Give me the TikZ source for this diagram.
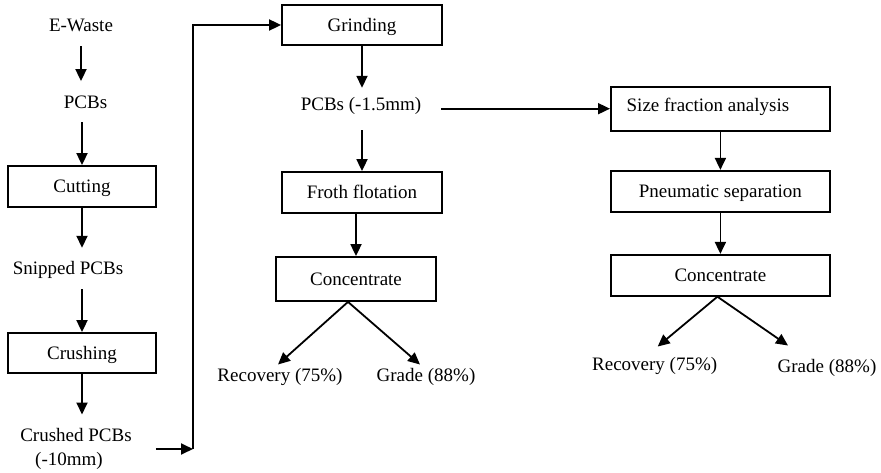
\documentclass[tikz,border=0pt]{standalone}
\usepackage{fontspec}
\setmainfont{Liberation Serif}
\usetikzlibrary{arrows.meta,calc}
\begin{document}
\begin{tikzpicture}[x=1pt,y=-1pt,
 every node/.style={font=\fontsize{19}{23}\selectfont},
 procbox/.style={draw,line width=1.8pt,inner sep=0pt,text height=13pt,text depth=0pt,minimum height=41pt},
 txt/.style={inner sep=0pt,text height=27pt,text depth=14pt,anchor=base},
 outcome/.style={inner sep=0pt,text height=18pt,text depth=4pt,anchor=base},
 arr/.style={-{Triangle[length=12pt,width=11pt]},line width=1.8pt}]
\useasboundingbox (0,0) rectangle (881,473);
% left column
\node[txt] (ewaste) at (81,32) {E-Waste};
\node[txt] (pcbs) at (85.5,108.3) {PCBs};
\node[procbox,minimum width=148pt] (cutting) at (82,186.5) {Cutting};
\node[txt] (snipped) at (68,275) {Snipped PCBs};
\node[procbox,minimum width=148pt,minimum height=40pt] (crushing) at (82,353) {Crushing};
\node[txt] (crushed) at (76,441.7) {Crushed PCBs};
\node[txt,text height=13pt,text depth=4pt] (crushedb) at (69,465) {(-10mm)};
\coordinate (turn) at (193,449);
% middle column
\node[procbox,minimum width=160pt,minimum height=40pt] (grinding) at (362,25) {Grinding};
\node[txt,text height=23pt,text depth=19pt,inner xsep=20pt] (fine) at (361,111) {PCBs (-1.5mm)};
\node[procbox,minimum width=160pt] (froth) at (362,192.5) {Froth flotation};
\node[procbox,minimum width=160pt,minimum height=44pt] (conc1) at (356,279) {Concentrate};
\node[outcome] (rec1) at (280,381.7) {Recovery (75\%)};
\node[outcome] (grade1) at (426,381.7) {Grade (88\%)};
% right column
\node[procbox,minimum width=219pt,minimum height=44pt,text depth=7pt] (size) at (720.4,108.7) {Size fraction analysis\hspace*{25pt}};
\node[procbox,minimum width=219pt] (pneu) at (720.4,191.3) {Pneumatic separation};
\node[procbox,minimum width=219pt] (conc2) at (720.4,275.3) {Concentrate};
\node[outcome] (rec2) at (654.7,370.7) {Recovery (75\%)};
\node[outcome] (grade2) at (827,372.7) {Grade (88\%)};
% connectors
\draw[arr] (ewaste.south) -- (ewaste.south |- pcbs.north);
\draw[arr] (cutting.north |- pcbs.south) -- (cutting.north);
\draw[arr] (cutting.south) -- (cutting.south |- snipped.north);
\draw[arr] (crushing.north |- snipped.south) -- (crushing.north);
\draw[arr] (crushing.south) -- (crushing.south |- crushed.north);
\draw[arr] ($(crushed.east |- turn)+(24,0)$) -- (turn);
\draw[arr] (turn) |- (grinding.west);
\draw[arr] (grinding.south) -- (grinding.south |- fine.north);
\draw[arr] (fine.east |- size.west) -- (size.west);
\draw[arr] (froth.north |- fine.south) -- (froth.north);
\draw[arr] (conc1.north |- froth.south) -- (conc1.north);
\draw[arr] ($(conc1.south)+(-8,0)$) -- ($(rec1.north)+(-2,1)$);
\draw[arr] ($(conc1.south)+(-8,0)$) -- ($(grade1.north)+(-6,1)$);
\draw[arr] (size.south) -- (pneu.north);
\draw[arr] (pneu.south) -- (conc2.north);
\draw[arr] ($(conc2.south)+(-3,0)$) -- ($(rec2.north)+(3,-6)$);
\draw[arr] ($(conc2.south)+(-3,0)$) -- ($(grade2.north)+(-39,-9)$);
\end{tikzpicture}
\end{document}
